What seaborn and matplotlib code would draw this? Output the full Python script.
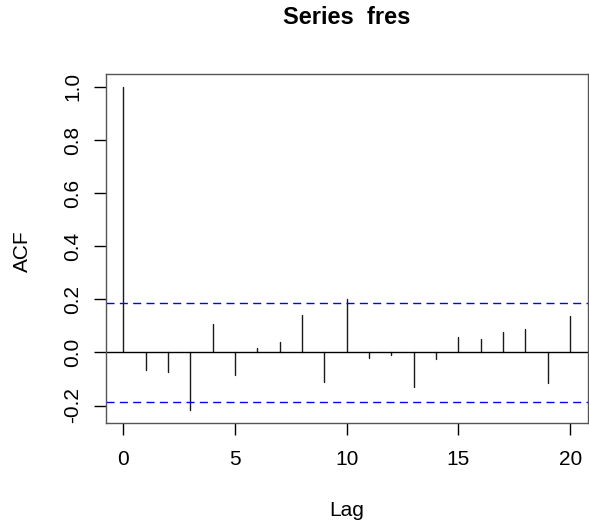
import numpy as np
import pandas as pd
import matplotlib
matplotlib.use("Agg")
import matplotlib.pyplot as plt
import seaborn as sns

# Data
lags = list(range(0, 21))
acf_values = [1.0, -0.065, -0.075, -0.217, 0.107, -0.084, 0.015, 0.038, 0.142, -0.111,
              0.202, -0.020, -0.009, -0.130, -0.024, 0.060, 0.049, 0.078, 0.090, -0.116, 0.137]
conf_bound = 0.186
title = "Series  fres"
x_label = "Lag"
y_label = "ACF"
x_ticks = [0, 5, 10, 15, 20]
y_ticks = [-0.2, 0.0, 0.2, 0.4, 0.6, 0.8, 1.0]

sns.set_style("ticks")
plt.rcParams['font.family'] = ['Liberation Sans', 'DejaVu Sans']
plt.rcParams['text.color'] = 'black'
plt.rcParams['axes.labelcolor'] = 'black'

# Long-form data: each lag contributes a stem from 0 to its value
rows = []
for lag, v in zip(lags, acf_values):
    rows.append({"lag": lag, "acf": 0.0})
    rows.append({"lag": lag, "acf": v})
df = pd.DataFrame(rows)

fig = plt.figure(figsize=(5.89, 5.25), dpi=100)
W, H = 589, 525
left, right, top, bottom = 105.5, 588, 74, 423
ax = fig.add_axes([left / W, (H - bottom) / H, (right - left) / W, (bottom - top) / H])

sns.lineplot(data=df, x="lag", y="acf", units="lag", estimator=None,
             color="#1a1a1a", lw=1.0, ax=ax, sort=False)

ax.axhline(0, color="black", lw=1.0)
ax.axhline(conf_bound, color="blue", lw=1.0, dashes=(5.8, 3.8))
ax.axhline(-conf_bound, color="blue", lw=1.0, dashes=(5.8, 3.8))

ymin, ymax = min(acf_values), max(acf_values)
pad = 0.04 * (ymax - ymin)
ax.set_ylim(ymin - pad, ymax + pad)
xpad = 0.04 * (max(lags) - min(lags))
ax.set_xlim(min(lags) - xpad, max(lags) + xpad)

ax.set_xticks(x_ticks)
ax.set_xticklabels([str(t) for t in x_ticks])
ax.set_yticks(y_ticks)
ax.set_yticklabels([f"{t:.1f}" for t in y_ticks], rotation=90, va="center")

ax.tick_params(axis="both", direction="out", length=8.6, width=1.0, color="black",
               labelsize=15, labelcolor="black")
ax.tick_params(axis="x", pad=11)
ax.tick_params(axis="y", pad=8)

for s in ax.spines.values():
    s.set_color("#555555")
    s.set_linewidth(1.0)
    s.set_visible(True)

ax.set_xlabel(x_label, fontsize=15, va="center", color="black")
ax.set_ylabel(y_label, fontsize=15, va="center", color="black")
ax.xaxis.set_label_coords((347 - left) / (right - left), (bottom - 511) / (bottom - top))
ax.yaxis.set_label_coords((22 - left) / (right - left), (bottom - 251) / (bottom - top))

fig.text(347 / W, 1 - 18 / H, title, ha="center", va="center", fontsize=17,
         fontweight="bold", color="black")

fig.savefig("out.png", dpi=100)
